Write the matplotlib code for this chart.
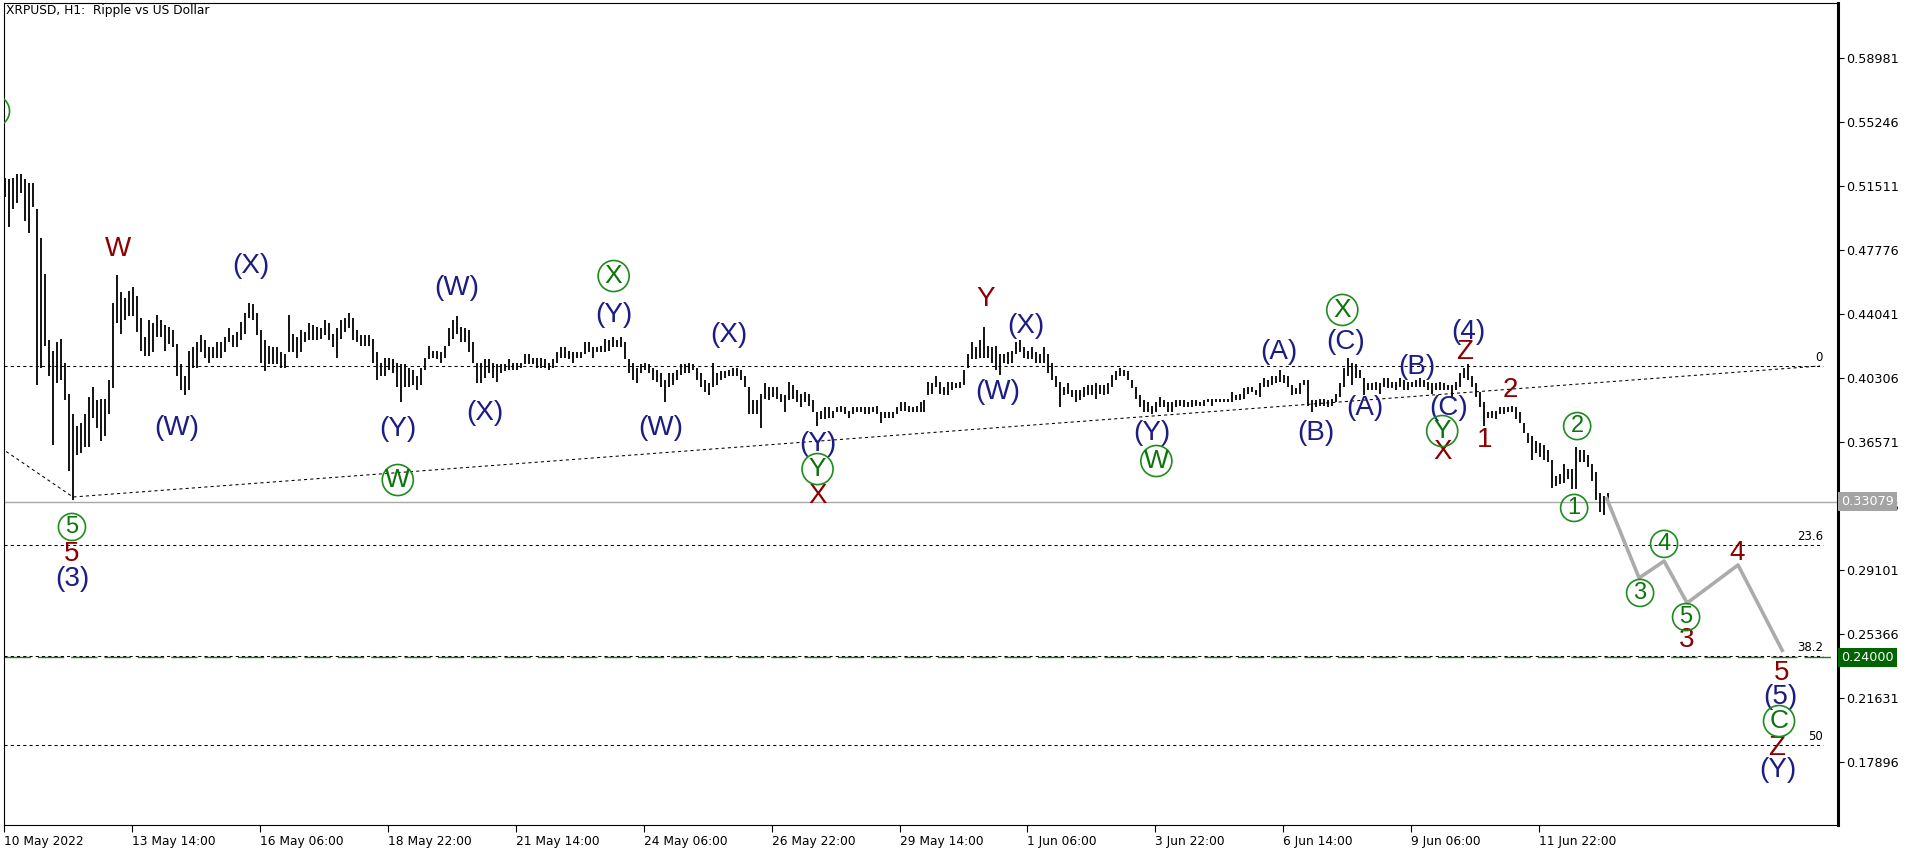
import numpy as np
import matplotlib
matplotlib.use("Agg")
import matplotlib.pyplot as plt

plt.rcParams['font.family'] = 'DejaVu Sans'

# XRPUSD, H1 -- one entry per 2 hours (high / low)
bar_high = [
    0.520, 0.519, 0.520, 0.522, 0.522, 0.519, 0.517, 0.517, 0.502, 0.485,
    0.464, 0.425, 0.419, 0.424, 0.426, 0.412, 0.394, 0.382, 0.375, 0.377,
    0.382, 0.392, 0.398, 0.390, 0.391, 0.391, 0.402, 0.447, 0.463, 0.453,
    0.450, 0.454, 0.456, 0.451, 0.438, 0.427, 0.437, 0.435, 0.440, 0.437,
    0.434, 0.433, 0.431, 0.423, 0.411, 0.404, 0.419, 0.421, 0.424, 0.428,
    0.425, 0.421, 0.421, 0.424, 0.424, 0.427, 0.432, 0.428, 0.430, 0.436,
    0.441, 0.447, 0.446, 0.441, 0.431, 0.425, 0.422, 0.421, 0.421, 0.418,
    0.417, 0.440, 0.429, 0.427,
    0.431, 0.430, 0.435, 0.434, 0.433, 0.432, 0.437, 0.435, 0.429, 0.432,
    0.437, 0.438, 0.441, 0.438, 0.431, 0.428, 0.428, 0.428, 0.426, 0.418,
    0.412, 0.415, 0.415, 0.414, 0.412, 0.411, 0.411, 0.409, 0.408, 0.404,
    0.409, 0.415, 0.422, 0.419, 0.419, 0.418, 0.422, 0.432, 0.437, 0.439,
    0.433, 0.432, 0.431, 0.424, 0.412, 0.412, 0.414, 0.414, 0.412, 0.411,
    0.411, 0.411, 0.414, 0.412, 0.412, 0.412, 0.417, 0.417, 0.415, 0.415,
    0.415, 0.414, 0.412, 0.414, 0.418, 0.421, 0.421, 0.419, 0.418, 0.418,
    0.418, 0.424, 0.424, 0.421, 0.421, 0.422, 0.426, 0.425, 0.427, 0.425,
    0.427, 0.424, 0.414, 0.412, 0.409, 0.411, 0.412, 0.411, 0.409, 0.408,
    0.406, 0.402, 0.406, 0.406, 0.408, 0.411, 0.411, 0.412, 0.411, 0.409,
    0.406, 0.402, 0.400, 0.412, 0.406, 0.407, 0.407, 0.408, 0.409, 0.409,
    0.408, 0.404, 0.398, 0.390, 0.390, 0.394, 0.400, 0.398, 0.398, 0.398,
    0.394, 0.393, 0.401, 0.399, 0.396, 0.394, 0.395, 0.394, 0.390, 0.383,
    0.384, 0.386, 0.386, 0.384, 0.386, 0.387, 0.386, 0.384, 0.386, 0.386,
    0.386, 0.386, 0.386, 0.386, 0.387, 0.383, 0.383, 0.383, 0.383, 0.386,
    0.389, 0.389, 0.387, 0.386, 0.387, 0.389, 0.390, 0.401, 0.400, 0.404,
    0.401, 0.398, 0.401, 0.401, 0.400, 0.401, 0.408, 0.417, 0.424, 0.421,
    0.425, 0.433, 0.422, 0.421, 0.422, 0.417, 0.417, 0.418, 0.419, 0.424,
    0.425, 0.421, 0.419, 0.421, 0.418, 0.417, 0.421, 0.417, 0.412, 0.404,
    0.401, 0.398, 0.400, 0.396, 0.396, 0.396, 0.398, 0.399, 0.399, 0.400,
    0.399, 0.399, 0.400, 0.405, 0.407, 0.409, 0.408, 0.407, 0.402, 0.398,
    0.393, 0.390, 0.389, 0.387, 0.389, 0.392, 0.390, 0.389, 0.389, 0.390,
    0.390, 0.390, 0.389, 0.390, 0.390, 0.389, 0.390, 0.391, 0.391, 0.391,
    0.391, 0.391, 0.391, 0.395, 0.393, 0.394, 0.397, 0.398, 0.398, 0.396,
    0.400, 0.403, 0.402, 0.404, 0.404, 0.408, 0.405, 0.404, 0.399, 0.397,
    0.400, 0.402, 0.402, 0.390, 0.390, 0.391, 0.391, 0.390, 0.391, 0.394,
    0.400, 0.409, 0.415, 0.412, 0.411, 0.408, 0.403, 0.400, 0.400, 0.401,
    0.400, 0.403, 0.403, 0.401, 0.401, 0.403, 0.402, 0.401, 0.401, 0.402,
    0.403, 0.402, 0.401, 0.400, 0.400, 0.401, 0.400, 0.399, 0.399, 0.401,
    0.406, 0.409, 0.411, 0.404, 0.400, 0.395, 0.389, 0.383, 0.384, 0.384,
    0.386, 0.386, 0.386, 0.387, 0.386, 0.383, 0.377, 0.371, 0.369, 0.366,
    0.365, 0.364, 0.361, 0.355, 0.346, 0.347, 0.353, 0.350, 0.350, 0.363,
    0.361, 0.361, 0.358, 0.353, 0.348, 0.336, 0.334, 0.336,
]
bar_low = [
    0.509, 0.491, 0.502, 0.505, 0.511, 0.495, 0.488, 0.503, 0.399, 0.409,
    0.422, 0.404, 0.364, 0.400, 0.402, 0.390, 0.349, 0.332, 0.358, 0.359,
    0.363, 0.363, 0.380, 0.374, 0.366, 0.369, 0.382, 0.397, 0.435, 0.429,
    0.437, 0.439, 0.439, 0.430, 0.419, 0.416, 0.416, 0.418, 0.427, 0.427,
    0.419, 0.423, 0.421, 0.404, 0.396, 0.393, 0.396, 0.409, 0.409, 0.418,
    0.415, 0.412, 0.415, 0.415, 0.415, 0.418, 0.424, 0.421, 0.421, 0.425,
    0.429, 0.438, 0.437, 0.428, 0.412, 0.407, 0.411, 0.411, 0.411, 0.409,
    0.409, 0.418, 0.418, 0.415,
    0.418, 0.424, 0.425, 0.425, 0.425, 0.426, 0.428, 0.425, 0.421, 0.415,
    0.426, 0.430, 0.432, 0.425, 0.424, 0.422, 0.422, 0.422, 0.412, 0.402,
    0.404, 0.404, 0.408, 0.406, 0.398, 0.389, 0.398, 0.398, 0.399, 0.396,
    0.399, 0.408, 0.414, 0.415, 0.414, 0.412, 0.415, 0.422, 0.426, 0.429,
    0.424, 0.424, 0.418, 0.412, 0.400, 0.400, 0.403, 0.406, 0.403, 0.401,
    0.406, 0.407, 0.408, 0.408, 0.408, 0.409, 0.411, 0.411, 0.411, 0.409,
    0.409, 0.409, 0.408, 0.409, 0.412, 0.415, 0.415, 0.414, 0.412, 0.415,
    0.415, 0.417, 0.418, 0.415, 0.418, 0.418, 0.418, 0.419, 0.421, 0.421,
    0.421, 0.414, 0.406, 0.402, 0.400, 0.406, 0.408, 0.406, 0.402, 0.401,
    0.398, 0.389, 0.398, 0.399, 0.402, 0.405, 0.406, 0.406, 0.408, 0.402,
    0.398, 0.395, 0.393, 0.398, 0.399, 0.402, 0.403, 0.404, 0.404, 0.404,
    0.402, 0.398, 0.382, 0.382, 0.382, 0.374, 0.391, 0.390, 0.392, 0.391,
    0.389, 0.383, 0.390, 0.391, 0.389, 0.386, 0.389, 0.387, 0.383, 0.375,
    0.379, 0.379, 0.380, 0.380, 0.383, 0.383, 0.382, 0.380, 0.382, 0.383,
    0.383, 0.382, 0.382, 0.383, 0.382, 0.377, 0.380, 0.380, 0.380, 0.382,
    0.384, 0.384, 0.383, 0.383, 0.383, 0.383, 0.383, 0.393, 0.394, 0.398,
    0.394, 0.393, 0.393, 0.396, 0.397, 0.397, 0.399, 0.409, 0.414, 0.414,
    0.415, 0.415, 0.415, 0.412, 0.408, 0.405, 0.412, 0.411, 0.412, 0.417,
    0.418, 0.415, 0.414, 0.414, 0.412, 0.412, 0.412, 0.406, 0.402, 0.398,
    0.386, 0.393, 0.394, 0.392, 0.389, 0.390, 0.392, 0.393, 0.393, 0.391,
    0.394, 0.393, 0.394, 0.398, 0.402, 0.404, 0.404, 0.402, 0.397, 0.391,
    0.386, 0.383, 0.383, 0.382, 0.383, 0.386, 0.386, 0.383, 0.383, 0.386,
    0.387, 0.386, 0.386, 0.386, 0.387, 0.387, 0.387, 0.389, 0.387, 0.389,
    0.389, 0.389, 0.389, 0.389, 0.390, 0.390, 0.391, 0.394, 0.395, 0.393,
    0.392, 0.398, 0.398, 0.399, 0.400, 0.401, 0.400, 0.398, 0.393, 0.394,
    0.394, 0.399, 0.387, 0.383, 0.386, 0.387, 0.387, 0.386, 0.387, 0.389,
    0.392, 0.398, 0.404, 0.399, 0.403, 0.403, 0.393, 0.396, 0.396, 0.396,
    0.394, 0.398, 0.397, 0.397, 0.396, 0.398, 0.396, 0.396, 0.398, 0.398,
    0.398, 0.398, 0.396, 0.394, 0.396, 0.396, 0.396, 0.396, 0.392, 0.396,
    0.398, 0.403, 0.402, 0.398, 0.392, 0.386, 0.375, 0.380, 0.380, 0.379,
    0.382, 0.382, 0.383, 0.383, 0.379, 0.377, 0.371, 0.365, 0.355, 0.359,
    0.357, 0.355, 0.354, 0.339, 0.340, 0.341, 0.342, 0.344, 0.338, 0.338,
    0.354, 0.354, 0.351, 0.343, 0.332, 0.325, 0.323, 0.330,
]
# hours since 10 May 2022 22:00
bar_hour = np.arange(len(bar_high)) * 2 + 0.5

tick_hours = [0, 64, 128, 192, 256, 320, 384, 448, 512, 576, 640, 704, 768]
tick_labels = ['10 May 2022', '13 May 14:00', '16 May 06:00', '18 May 22:00',
               '21 May 14:00', '24 May 06:00', '26 May 22:00', '29 May 14:00',
               '1 Jun 06:00', '3 Jun 22:00', '6 Jun 14:00', '9 Jun 06:00',
               '11 Jun 22:00']
price_ticks = [0.58981, 0.55246, 0.51511, 0.47776, 0.44041, 0.40306,
               0.36571, 0.32836, 0.29101, 0.25366, 0.21631, 0.17896]

last_price = 0.33079
target_price = 0.24000
fib_levels = [0.4101, 0.3056, 0.2407, 0.1887]
fib_names = ['0', '23.6', '38.2', '50']

trend_hours = [-1.5, 34.5, 908.5]
trend_prices = [0.3622, 0.3336, 0.4101]

forecast_hours = [801.5, 818, 830.5, 842, 867.5, 890]
forecast_prices = [0.3336, 0.2863, 0.2962, 0.2717, 0.2939, 0.2431]

# wave labels: (text, hour, price)
red_labels = [('W', 57, 0.4784), ('X', 407, 0.3342), ('Y', 491, 0.4492),
              ('Z', 730.5, 0.4182), ('X', 719.5, 0.3599), ('2', 753.5, 0.3961),
              ('1', 740.5, 0.3669), ('3', 842, 0.2501), ('4', 867, 0.3009),
              ('5', 889.5, 0.2309), ('Z', 887, 0.1871), ('5', 34, 0.3003)]
blue_labels = [('(X)', 123.5, 0.4685), ('(W)', 86.5, 0.3739), ('(W)', 226.5, 0.4556),
               ('(Y)', 197, 0.3733), ('(X)', 240.5, 0.3826), ('(Y)', 305, 0.4398),
               ('(X)', 362.5, 0.4282), ('(W)', 328.5, 0.3739), ('(Y)', 407, 0.3645),
               ('(X)', 511, 0.4334), ('(W)', 497, 0.3949), ('(Y)', 574.5, 0.3710),
               ('(A)', 638, 0.4182), ('(B)', 656.5, 0.3710), ('(C)', 671, 0.4241),
               ('(A)', 681, 0.3856), ('(B)', 707, 0.4095), ('(4)', 732.5, 0.4299),
               ('(C)', 722.5, 0.3856), ('(5)', 888.5, 0.2168), ('(Y)', 887.5, 0.1742),
               ('(3)', 34, 0.2857)]
green_letters = [('W', 197, 0.3435), ('X', 305, 0.4626), ('Y', 407, 0.3499),
                 ('W', 576.5, 0.3546), ('X', 669.5, 0.4428), ('Y', 719.5, 0.3721),
                 ('C', 888, 0.2028), ('', -5, 0.5589)]
green_digits = [('5', 34, 0.3161), ('2', 787, 0.3750), ('1', 785.5, 0.3272),
                ('3', 818.5, 0.2776), ('4', 830.5, 0.3062), ('5', 841.5, 0.2635)]

RED = '#8B0000'
NAVY = '#1C1C84'
GREEN = '#0B740B'
LABEL_FONT = 'Liberation Sans'

fig = plt.figure(figsize=(19.16, 8.52), dpi=100)
ax = fig.add_axes([4 / 1916, 27 / 852, 1834 / 1916, 822 / 852])
ax.set_xlim(0, 917.5)
ax.set_ylim(0.1421, 0.6220)

# price bars
ax.vlines(bar_hour, bar_low, bar_high, color='black', lw=1.3, zorder=3)

# horizontal levels
ax.axhline(last_price, color='#A8A8A8', lw=1.0, zorder=1)
ax.axhline(target_price, color='#1E7B1E', lw=1.0, ls=(0, (19, 5)), zorder=1)
for lvl, name in zip(fib_levels, fib_names):
    ax.plot([0, 910], [lvl, lvl], color='black', lw=0.75, ls=(0, (3, 3)), zorder=2)
    ax.annotate(name, xy=(910, lvl), xytext=(0, 1.5), textcoords='offset points',
                ha='right', va='bottom', fontsize=8.5)

ax.plot(trend_hours, trend_prices, color='black', lw=0.75, ls=(0, (3, 3)), zorder=2)

# forecast path
ax.plot(forecast_hours, forecast_prices, color='#ABABAB', lw=2.6, zorder=3,
        solid_capstyle='butt')

# wave labels
for txt, h, p in red_labels:
    ax.text(h, p, txt, color=RED, fontsize=20, family=LABEL_FONT,
            ha='center', va='center', zorder=6)
for txt, h, p in blue_labels:
    ax.text(h, p, txt, color=NAVY, fontsize=20, family=LABEL_FONT,
            ha='center', va='center', zorder=6)
for txt, h, p in green_letters:
    ax.scatter([h], [p], s=500, facecolors='none', edgecolors='#1E8C1E',
               linewidths=1.2, zorder=6)
    ax.text(h, p, txt, color=GREEN, fontsize=19, family=LABEL_FONT,
            ha='center', va='center', zorder=7, clip_on=True)
for txt, h, p in green_digits:
    ax.scatter([h], [p], s=380, facecolors='none', edgecolors='#1E8C1E',
               linewidths=1.2, zorder=6)
    ax.text(h, p, txt, color=GREEN, fontsize=17, family=LABEL_FONT,
            ha='center', va='center', zorder=7)

# axes styling, MT4 look
for side in ('left', 'top', 'bottom'):
    ax.spines[side].set_linewidth(0.8)
ax.spines['right'].set_linewidth(2.2)

ax.set_xticks(tick_hours)
ax.set_xticklabels(tick_labels)
for lbl in ax.get_xticklabels():
    lbl.set_horizontalalignment('left')
ax.tick_params(axis='x', direction='out', length=5, width=0.8, pad=2, labelsize=8.8)

ax.yaxis.tick_right()
ax.set_yticks(price_ticks)
ax.set_yticklabels([f'{v:.5f}' for v in price_ticks])
ax.tick_params(axis='y', direction='out', length=4, width=0.8, pad=2, labelsize=9.2)

# current price and target tags on the scale
ax.annotate(f'{last_price:.5f}', xy=(1, last_price), xycoords=('axes fraction', 'data'),
            xytext=(2.5, 0), textcoords='offset points', ha='left', va='center',
            fontsize=9.2, color='white', annotation_clip=False, zorder=10,
            bbox=dict(boxstyle='square,pad=0.25', fc='#A4A4A4', ec='none'))
ax.annotate(f'{target_price:.5f}', xy=(1, target_price), xycoords=('axes fraction', 'data'),
            xytext=(2.5, 0), textcoords='offset points', ha='left', va='center',
            fontsize=9.2, color='white', annotation_clip=False, zorder=10,
            bbox=dict(boxstyle='square,pad=0.25', fc='#006400', ec='none'))

fig.text(6 / 1916, 1 - 4 / 852, 'XRPUSD, H1:  Ripple vs US Dollar', ha='left', va='top',
         fontsize=8.8)

fig.savefig('out.png', dpi=100)
